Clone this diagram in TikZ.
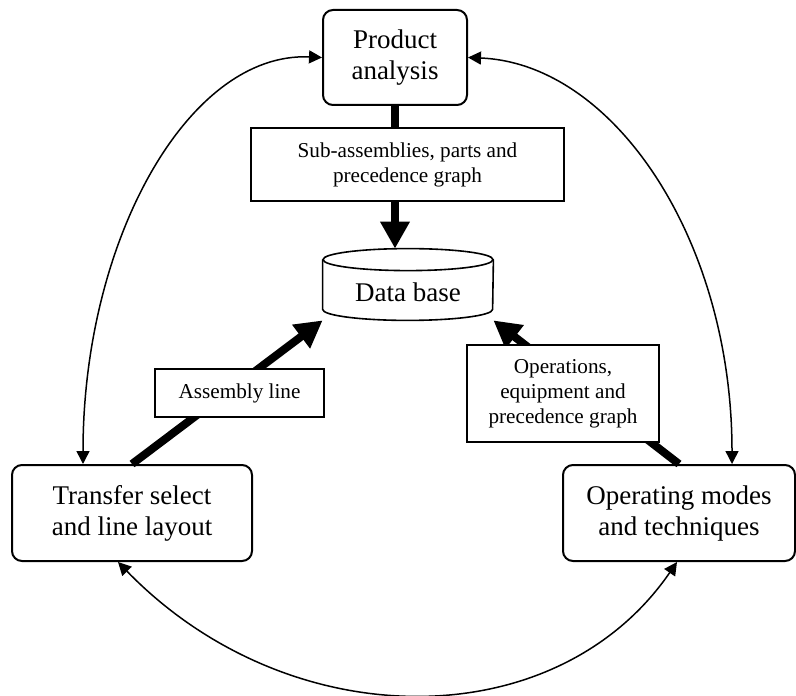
\documentclass[tikz,border=0pt]{standalone}
\usepackage{fontspec}
\setmainfont{Liberation Serif}
\usetikzlibrary{arrows.meta, calc}

\tikzset{
  block/.style={draw, line width=1pt, rounded corners=5pt, align=center,
    inner sep=0pt, font=\fontsize{13.5}{15.5}\selectfont},
  tag/.style={draw, line width=0.8pt, fill=white, align=center,
    inner sep=0pt, font=\fontsize{10.6}{12.5}\selectfont},
  flow/.style={line width=4pt, -{Triangle[width=14pt,length=13.5pt]}},
  link/.style={line width=0.75pt,
    {Triangle[width=6.5pt,length=6.5pt]}-{Triangle[width=6.5pt,length=6.5pt]}},
  drum/.style={line width=0.8pt}
}

\begin{document}
\begin{tikzpicture}[x=0.5pt, y=-0.5pt]
\useasboundingbox (0,0) rectangle (796,695);

\node[block, minimum width=72pt, minimum height=47.5pt] (product) at (395,57.5) {Product\\analysis};
\node[block, minimum width=120pt, minimum height=48pt] (transfer) at (132,513) {Transfer select\\and line layout};
\node[block, minimum width=116pt, minimum height=48pt] (operating) at (679,513) {Operating modes\\and techniques};

\node[minimum width=85pt, minimum height=35.5pt, inner sep=0pt] (db) at (408,284.5) {};
\draw[drum] ([yshift=-5.5pt]db.north) ellipse [x radius=42.5pt, y radius=5.5pt];
\draw[drum] ([yshift=-5.5pt]db.north west) -- ([yshift=5.5pt]db.south west)
  arc [start angle=180, end angle=360, x radius=42.5pt, y radius=5.5pt]
  -- ([yshift=-5.5pt]db.north east);
\node[font=\fontsize{13.5}{15.5}\selectfont] (dbtext) at ([yshift=-3.75pt]db.center) {Data base};

\draw[flow] (product.south) -- (product.south |- db.north);
\draw[flow] (transfer.north) -- (db.south west);
\draw[flow] (operating.north) -- (db.south east);

\node[tag, minimum width=156.5pt, minimum height=36.5pt] (parts) at (407.5,164.5) {Sub-assemblies, parts and\\precedence graph};
\node[tag, minimum width=84.5pt, minimum height=24pt] (assembly) at (239.5,393) {Assembly line};
\node[tag, minimum width=96pt, minimum height=48.5pt] (operations) at (563,393.5) {Operations,\\equipment and\\precedence graph};

\draw[link] ([xshift=-24.5pt]transfer.north) .. controls +(0,-225) and +(-133,-6) .. (product.west);
\draw[link] (product.east) .. controls +(146,6) and +(0,-224) .. ([xshift=26.5pt]operating.north);
\draw[link] ([xshift=-7pt]transfer.south) .. controls +(171,176) and +(-121,176) .. ([xshift=-1pt]operating.south);
\end{tikzpicture}
\end{document}
